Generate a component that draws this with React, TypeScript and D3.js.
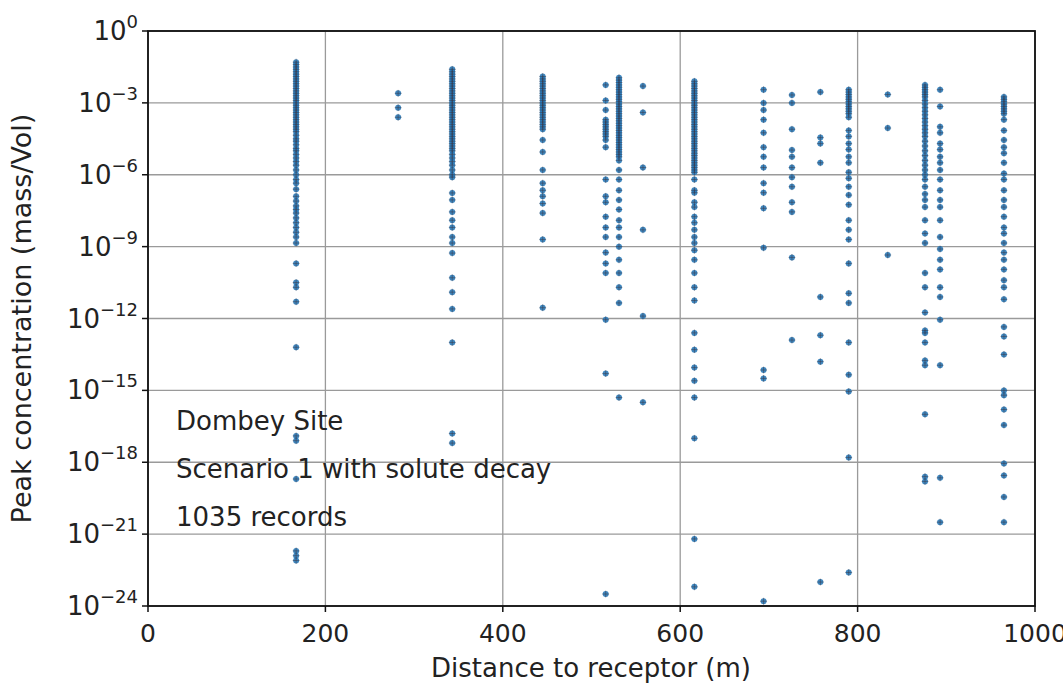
import React from "react";
import * as d3 from "d3";

// Distances (m) of the receptor columns
const distances = [167, 282, 343, 445, 516, 531, 558, 616, 694, 726, 758, 790, 834, 876, 893, 965];

// log10 of peak concentration for each column
const exp167 = [-1.3,-1.4,-1.5,-1.6,-1.7,-1.8,-1.9,-2.0,-2.1,-2.2,-2.3,-2.4,-2.5,-2.6,-2.7,-2.8,-2.9,-3.0,-3.1,-3.2,-3.3,-3.4,-3.5,-3.6,-3.7,-3.8,-3.9,-4.0,-4.1,-4.2,-4.35,-4.5,-4.6,-4.75,-4.9,-5.0,-5.15,-5.3,-5.45,-5.6,-5.8,-6.0,-6.2,-6.35,-6.6,-6.9,-7.1,-7.3,-7.45,-7.6,-7.8,-8.0,-8.2,-8.4,-8.6,-8.85,-9.7,-10.5,-10.7,-11.3,-13.2,-16.9,-17.1,-18.7,-21.7,-21.9,-22.1];
const exp282 = [-2.6,-3.2,-3.6];
const exp343 = [-1.6,-1.7,-1.8,-1.9,-2.0,-2.1,-2.2,-2.3,-2.4,-2.5,-2.6,-2.7,-2.8,-2.9,-3.0,-3.1,-3.2,-3.3,-3.4,-3.5,-3.6,-3.7,-3.8,-3.9,-4.0,-4.1,-4.2,-4.3,-4.4,-4.5,-4.6,-4.7,-4.8,-4.9,-5.0,-5.15,-5.3,-5.45,-5.6,-5.8,-6.0,-6.1,-6.76,-7.05,-7.55,-7.9,-8.2,-8.6,-8.85,-9.27,-10.3,-10.9,-11.6,-13.0,-16.8,-17.2];
const exp445 = [-1.9,-2.0,-2.1,-2.2,-2.3,-2.4,-2.5,-2.6,-2.7,-2.8,-2.9,-3.0,-3.1,-3.2,-3.3,-3.4,-3.5,-3.6,-3.7,-3.8,-3.9,-4.0,-4.1,-4.55,-5.05,-5.8,-6.35,-6.65,-6.9,-7.2,-7.6,-8.7,-11.55];
const exp516 = [-2.25,-2.9,-3.3,-3.7,-3.8,-3.9,-4.0,-4.1,-4.2,-4.3,-4.4,-4.55,-4.85,-6.2,-6.9,-7.15,-7.75,-8.2,-8.6,-9.25,-9.7,-10.1,-12.05,-14.3,-23.5];
const exp531 = [-1.95,-2.05,-2.15,-2.25,-2.35,-2.45,-2.55,-2.65,-2.75,-2.85,-2.95,-3.05,-3.15,-3.25,-3.35,-3.45,-3.55,-3.65,-3.75,-3.85,-3.95,-4.05,-4.15,-4.25,-4.35,-4.45,-4.55,-4.65,-4.75,-4.85,-4.95,-5.05,-5.15,-5.25,-5.4,-5.8,-6.2,-6.65,-7.05,-7.45,-7.9,-8.2,-8.6,-9.0,-9.55,-10.1,-10.7,-11.35,-15.3];
const exp558 = [-2.3,-3.4,-5.7,-8.3,-11.9,-15.5];
const exp616 = [-2.1,-2.2,-2.3,-2.4,-2.5,-2.6,-2.7,-2.8,-2.9,-3.0,-3.1,-3.2,-3.3,-3.4,-3.5,-3.6,-3.7,-3.8,-3.9,-4.0,-4.1,-4.2,-4.3,-4.4,-4.5,-4.6,-4.7,-4.8,-4.9,-5.0,-5.1,-5.2,-5.3,-5.4,-5.5,-5.6,-5.7,-5.8,-5.9,-6.2,-6.65,-6.75,-7.15,-7.35,-7.75,-8.0,-8.3,-8.6,-8.85,-9.15,-9.55,-10.1,-10.7,-11.25,-12.6,-13.3,-14.05,-14.6,-15.3,-17.0,-21.2,-23.2];
const exp694 = [-2.45,-3.0,-3.3,-3.7,-4.25,-4.85,-5.25,-5.7,-6.35,-6.75,-7.4,-9.05,-14.15,-14.5,-23.8];
const exp726 = [-2.67,-3.0,-4.1,-4.97,-5.25,-5.7,-6.1,-6.5,-7.15,-7.55,-9.45,-12.9];
const exp758 = [-2.55,-4.45,-4.7,-5.5,-11.1,-12.7,-13.8,-23.0];
const exp790 = [-2.45,-2.55,-2.65,-2.75,-2.85,-2.95,-3.05,-3.15,-3.25,-3.35,-3.45,-3.6,-4.15,-4.4,-4.7,-4.95,-5.25,-5.5,-5.9,-6.15,-6.5,-6.85,-7.25,-7.9,-8.3,-8.7,-9.7,-10.95,-11.35,-13.0,-14.35,-15.05,-17.8,-22.6];
const exp834 = [-2.65,-4.05,-9.35];
const exp876 = [-2.25,-2.35,-2.45,-2.55,-2.65,-2.75,-2.9,-3.05,-3.2,-3.35,-3.5,-3.65,-3.8,-3.95,-4.1,-4.25,-4.4,-4.6,-4.8,-5.0,-5.2,-5.4,-5.6,-5.8,-6.0,-6.2,-6.5,-6.8,-7.05,-7.35,-7.9,-8.45,-8.85,-10.1,-10.7,-11.75,-12.5,-12.6,-13.0,-13.75,-13.95,-16.0,-18.6,-18.8];
const exp893 = [-2.45,-3.15,-4.0,-4.25,-4.7,-4.95,-5.25,-5.5,-5.8,-6.2,-6.65,-7.05,-7.35,-7.9,-8.6,-9.1,-9.55,-9.95,-10.7,-11.1,-12.05,-13.95,-18.65,-20.5];
const exp965 = [-2.75,-2.85,-2.95,-3.05,-3.15,-3.25,-3.35,-3.45,-3.7,-4.15,-4.55,-4.85,-5.1,-5.5,-5.95,-6.2,-6.65,-7.05,-7.35,-7.75,-8.2,-8.45,-8.85,-9.25,-9.55,-9.95,-10.4,-10.7,-11.2,-12.35,-12.75,-13.5,-15.0,-15.2,-15.8,-16.45,-18.05,-18.55,-19.45,-20.5];

const columnExps = [exp167, exp282, exp343, exp445, exp516, exp531, exp558, exp616, exp694, exp726, exp758, exp790, exp834, exp876, exp893, exp965];

const xTicks = [0, 200, 400, 600, 800, 1000];
const yTickExps = [0, -3, -6, -9, -12, -15, -18, -21, -24];
const annotations = ["Dombey Site", "Scenario 1 with solute decay", "1035 records"];

const W = 1063, H = 687;
const left = 148, right = 1035, top = 31, bottom = 606;
const FONT = "DejaVu Sans, sans-serif";

export default function App() {
  const x = d3.scaleLinear().domain([0, 1000]).range([left, right]);
  const y = d3.scaleLog().domain([1e-24, 1]).range([bottom, top]);

  const points = distances.flatMap((d, i) =>
    columnExps[i].map((e) => ({ d, v: Math.pow(10, e) }))
  );

  return (
    <svg width={W} height={H} style={{ position: "absolute", left: 0, top: 0, background: "#fff" }}>
      <rect x={0} y={0} width={W} height={H} fill="#fff" />
      {/* grid */}
      {xTicks.map((t) => (
        <line key={"gx" + t} x1={x(t)} x2={x(t)} y1={top} y2={bottom} stroke="#9a9a9a" strokeWidth={1.3} />
      ))}
      {yTickExps.map((e) => (
        <line key={"gy" + e} x1={left} x2={right} y1={y(Math.pow(10, e))} y2={y(Math.pow(10, e))} stroke="#9a9a9a" strokeWidth={1.3} />
      ))}
      {/* points */}
      {points.map((p, i) => (
        <circle key={"c" + i} cx={x(p.d)} cy={y(p.v)} r={3} fill="#2a7ab8" opacity={0.9} />
      ))}
      {points.map((p, i) => {
        const cx = x(p.d), cy = y(p.v);
        return (
          <path key={"p" + i} d={`M${cx - 3.4},${cy}H${cx + 3.4}M${cx},${cy - 3.4}V${cy + 3.4}`} stroke="#3a3a4a" strokeWidth={1} opacity={0.5} fill="none" />
        );
      })}
      {/* annotations */}
      {annotations.map((a, i) => (
        <text key={a} x={176} y={430 + i * 48} fontFamily={FONT} fontSize={26} fill="#222">{a}</text>
      ))}
      {/* frame */}
      <rect x={left} y={top} width={right - left} height={bottom - top} fill="none" stroke="#111" strokeWidth={1.8} />
      {/* x ticks */}
      {xTicks.map((t) => (
        <g key={"xt" + t}>
          <line x1={x(t)} x2={x(t)} y1={bottom} y2={bottom + 6} stroke="#111" strokeWidth={1.5} />
          <text x={x(t)} y={642} textAnchor="middle" fontFamily={FONT} fontSize={25} fill="#222">{t}</text>
        </g>
      ))}
      {/* y ticks */}
      {yTickExps.map((e) => {
        const yy = y(Math.pow(10, e));
        return (
          <g key={"yt" + e}>
            <line x1={left - 6} x2={left} y1={yy} y2={yy} stroke="#111" strokeWidth={1.5} />
            <text x={138} y={yy + 9} textAnchor="end" fontFamily={FONT} fill="#222">
              <tspan fontSize={26}>10</tspan>
              <tspan fontSize={18} dy={-12}>{e === 0 ? "0" : "\u2212" + Math.abs(e)}</tspan>
            </text>
          </g>
        );
      })}
      {/* axis labels */}
      <text x={591} y={677} textAnchor="middle" fontFamily={FONT} fontSize={26} fill="#222">Distance to receptor (m)</text>
      <text transform={`translate(31,${(top + bottom) / 2}) rotate(-90)`} textAnchor="middle" fontFamily={FONT} fontSize={27} fill="#222">Peak concentration (mass/Vol)</text>
    </svg>
  );
}
